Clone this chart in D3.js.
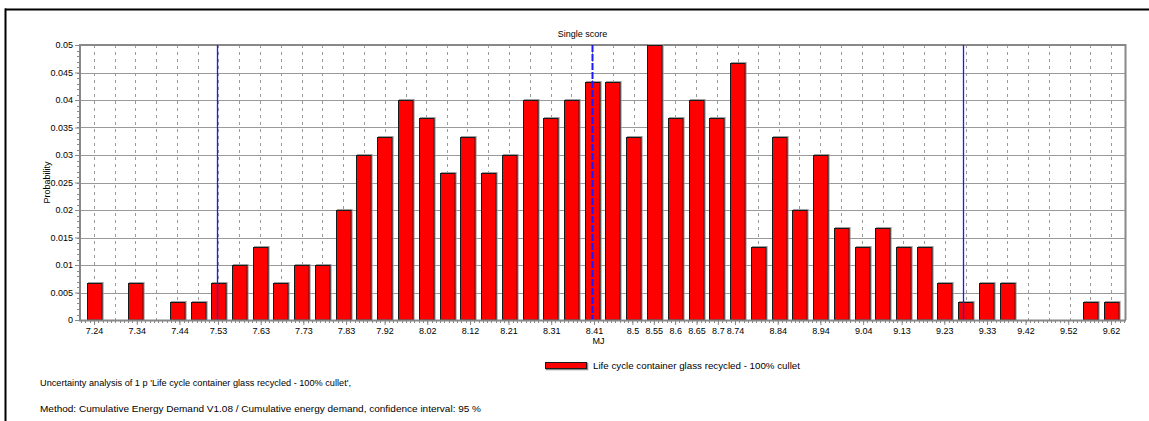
<!DOCTYPE html>
<html>
<head>
<meta charset="utf-8">
<script src="https://cdn.jsdelivr.net/npm/d3@7/dist/d3.min.js"></script>
<style>
  html, body { margin: 0; padding: 0; background: #fff; }
  svg { display: block; }
  text { font-family: "Liberation Sans", Arial, sans-serif; fill: #000; }
</style>
</head>
<body>
<svg id="chart" width="1149" height="421"></svg>
<script>
// ---- data ----
const chartTitle = "Single score";
const xAxisTitle = "MJ";
const yAxisTitle = "Probability";
const seriesName = "Life cycle container glass recycled - 100% cullet";
const footLines = [
  "Uncertainty analysis of 1 p 'Life cycle container glass recycled - 100% cullet',",
  "Method: Cumulative Energy Demand V1.08 /  Cumulative energy demand, confidence interval: 95 %"
];
const binCenters = [
  7.240, 7.289, 7.337, 7.386, 7.434, 7.483, 7.531, 7.580, 7.629, 7.677,
  7.726, 7.774, 7.823, 7.871, 7.920, 7.969, 8.017, 8.066, 8.114, 8.163,
  8.211, 8.260, 8.309, 8.357, 8.406, 8.454, 8.503, 8.551, 8.600, 8.649,
  8.697, 8.746, 8.794, 8.843, 8.891, 8.940, 8.989, 9.037, 9.086, 9.134,
  9.183, 9.231, 9.280, 9.329, 9.377, 9.426, 9.474, 9.523, 9.571, 9.620
];
const probabilities = [
  0.00667, 0, 0.00667, 0, 0.00333, 0.00333, 0.00667, 0.01, 0.01333, 0.00667,
  0.01, 0.01, 0.02, 0.03, 0.03333, 0.04, 0.03667, 0.02667, 0.03333, 0.02667,
  0.03, 0.04, 0.03667, 0.04, 0.04333, 0.04333, 0.03333, 0.05, 0.03667, 0.04,
  0.03667, 0.04667, 0.01333, 0.03333, 0.02, 0.03, 0.01667, 0.01333, 0.01667, 0.01333,
  0.01333, 0.00667, 0.00333, 0.00667, 0.00667, 0, 0, 0, 0.00333, 0.00333
];
const xTickLabels = ["7.24","7.34","7.44","7.53","7.63","7.73","7.83","7.92","8.02","8.12",
  "8.21","8.31","8.41","8.5","8.55","8.6","8.65","8.7","8.74","8.84","8.94","9.04",
  "9.13","9.23","9.33","9.42","9.52","9.62"];
const yTickLabels = ["0","0.005","0.01","0.015","0.02","0.025","0.03","0.035","0.04","0.045","0.05"];
const markerLines = [ // lower CI, mean, upper CI
  { value: 7.527, kind: "ci" },
  { value: 8.406, kind: "mean" },
  { value: 9.273, kind: "ci" }
];

// ---- layout ----
const svg = d3.select("#chart");
const plot = { left: 80, right: 1125, top: 45, bottom: 320 };
const binW = (binCenters[binCenters.length - 1] - binCenters[0]) / (binCenters.length - 1);
const pad = 0.675 * binW;

const x = d3.scaleLinear()
  .domain([binCenters[0] - pad, binCenters[binCenters.length - 1] + pad])
  .range([plot.left, plot.right]);
const y = d3.scaleLinear().domain([0, 0.05]).range([plot.bottom, plot.top]);

// outer frame
svg.append("line").attr("x1", 5).attr("x2", 1149).attr("y1", 9.5).attr("y2", 9.5)
  .attr("stroke", "#000").attr("stroke-width", 2);
svg.append("line").attr("x1", 5.5).attr("x2", 5.5).attr("y1", 8.5).attr("y2", 421)
  .attr("stroke", "#000").attr("stroke-width", 2);

// horizontal grid
svg.append("g").selectAll("line").data(yTickLabels.map(Number).filter(v => v > 0)).join("line")
  .attr("x1", plot.left).attr("x2", plot.right)
  .attr("y1", d => Math.round(y(d)) + 0.5).attr("y2", d => Math.round(y(d)) + 0.5)
  .attr("stroke", "#9a9a9a").attr("stroke-width", 1.2);

// vertical dashed grid at bin centers
svg.append("g").selectAll("line").data(binCenters).join("line")
  .attr("x1", d => Math.round(x(d)) + 0.5).attr("x2", d => Math.round(x(d)) + 0.5)
  .attr("y1", plot.top).attr("y2", plot.bottom)
  .attr("stroke", "#9a9a9a").attr("stroke-width", 1).attr("stroke-dasharray", "3,4");

// plot border (top & right)
svg.append("line").attr("x1", plot.left).attr("x2", plot.right + 1).attr("y1", plot.top).attr("y2", plot.top)
  .attr("stroke", "#888").attr("stroke-width", 2);
svg.append("line").attr("x1", plot.right + 0.5).attr("x2", plot.right + 0.5).attr("y1", plot.top - 1).attr("y2", plot.bottom)
  .attr("stroke", "#888").attr("stroke-width", 2);

// bars
const barW = 0.7 * (x(binCenters[1]) - x(binCenters[0]));
const bars = svg.append("g");
const data = binCenters.map((c, i) => ({ c, p: probabilities[i] })).filter(d => d.p > 0);
bars.selectAll("rect.shadow").data(data).join("rect").attr("class", "shadow")
  .attr("x", d => Math.round(x(d.c) - barW / 2) + 1.5)
  .attr("y", d => Math.round(y(d.p)) - 0.5)
  .attr("width", barW)
  .attr("height", d => plot.bottom - Math.round(y(d.p)))
  .attr("fill", "none").attr("stroke", "#a0a0a0").attr("stroke-width", 1);
bars.selectAll("rect.bar").data(data).join("rect").attr("class", "bar")
  .attr("x", d => Math.round(x(d.c) - barW / 2) + 0.5)
  .attr("y", d => Math.round(y(d.p)) + 0.5)
  .attr("width", barW)
  .attr("height", d => plot.bottom - Math.round(y(d.p)) - 0.5)
  .attr("fill", "#ff0000").attr("stroke", "#1a1a1a").attr("stroke-width", 1);

// marker lines
svg.append("g").attr("class", "markers").selectAll("line").data(markerLines).join("line")
  .attr("x1", d => Math.round(x(d.value)) + 0.5).attr("x2", d => Math.round(x(d.value)) + 0.5)
  .attr("y1", plot.top).attr("y2", plot.bottom)
  .style("stroke", "#1a1aff")
  .style("stroke-width", d => d.kind === "mean" ? "2px" : "1.3px")
  .style("stroke-dasharray", d => d.kind === "mean" ? "7,2" : "none");

// axes lines
svg.append("line").attr("x1", plot.left).attr("x2", plot.left).attr("y1", plot.top - 1).attr("y2", plot.bottom + 1)
  .attr("stroke", "#888").attr("stroke-width", 2);
svg.append("line").attr("x1", plot.left - 1).attr("x2", plot.right + 1).attr("y1", plot.bottom + 0.5).attr("y2", plot.bottom + 0.5)
  .attr("stroke", "#888").attr("stroke-width", 2);

// y axis
const yMinor = d3.range(0, 51).map(i => i * 0.001);
svg.append("g").selectAll("line").data(yMinor).join("line")
  .attr("x1", plot.left - 3).attr("x2", plot.left)
  .attr("y1", d => Math.round(y(d)) + 0.5).attr("y2", d => Math.round(y(d)) + 0.5)
  .attr("stroke", "#888");
const yAxis = d3.axisLeft(y).tickValues(yTickLabels.map(Number))
  .tickFormat((d, i) => yTickLabels[i]).tickSize(5).tickPadding(2);
const yg = svg.append("g").attr("transform", `translate(${plot.left},0)`).call(yAxis);
yg.select(".domain").remove();
yg.selectAll(".tick line").attr("stroke", "#888");
yg.selectAll(".tick text").attr("font-size", 9).attr("fill", "#222")
  .attr("font-family", '"Liberation Sans", Arial, sans-serif');

// x axis
const xMinor = x.ticks(250);
svg.append("g").selectAll("line").data(xMinor).join("line")
  .attr("x1", d => Math.round(x(d)) + 0.5).attr("x2", d => Math.round(x(d)) + 0.5)
  .attr("y1", plot.bottom + 1).attr("y2", plot.bottom + 3)
  .attr("stroke", "#888");
const xAxis = d3.axisBottom(x).tickValues(xTickLabels.map(Number))
  .tickFormat((d, i) => xTickLabels[i]).tickSize(4).tickPadding(3);
const xg = svg.append("g").attr("transform", `translate(0,${plot.bottom + 1})`).call(xAxis);
xg.select(".domain").remove();
xg.selectAll(".tick line").attr("stroke", "#888");
xg.selectAll(".tick text").attr("font-size", 9).attr("fill", "#222")
  .attr("font-family", '"Liberation Sans", Arial, sans-serif');

// titles
svg.append("text").attr("x", (plot.left + plot.right) / 2 - 20).attr("y", 37)
  .attr("text-anchor", "middle").attr("font-size", 9).text(chartTitle);
svg.append("text").attr("x", (plot.left + plot.right) / 2 - 4).attr("y", 344)
  .attr("text-anchor", "middle").attr("font-size", 9).text(xAxisTitle);
svg.append("text").attr("transform", `translate(50,${(plot.top + plot.bottom) / 2}) rotate(-90)`)
  .attr("text-anchor", "middle").attr("font-size", 9).text(yAxisTitle);

// legend
svg.append("rect").attr("x", 546.5).attr("y", 363.5).attr("width", 41).attr("height", 6)
  .attr("fill", "none").attr("stroke", "#888").attr("stroke-width", 1.5);
svg.append("rect").attr("x", 545.5).attr("y", 362.5).attr("width", 41).attr("height", 6)
  .attr("fill", "#ff0000").attr("stroke", "#1a1a1a");
svg.append("text").attr("x", 593).attr("y", 369).attr("font-size", 9)
  .attr("textLength", 207).attr("lengthAdjust", "spacingAndGlyphs").text(seriesName);

// footer
svg.append("text").attr("x", 40).attr("y", 386).attr("font-size", 9)
  .attr("textLength", 311).attr("lengthAdjust", "spacingAndGlyphs").text(footLines[0]);
svg.append("text").attr("x", 40).attr("y", 412).attr("font-size", 9)
  .attr("textLength", 441).attr("lengthAdjust", "spacingAndGlyphs").text(footLines[1]);
</script>
</body>
</html>
